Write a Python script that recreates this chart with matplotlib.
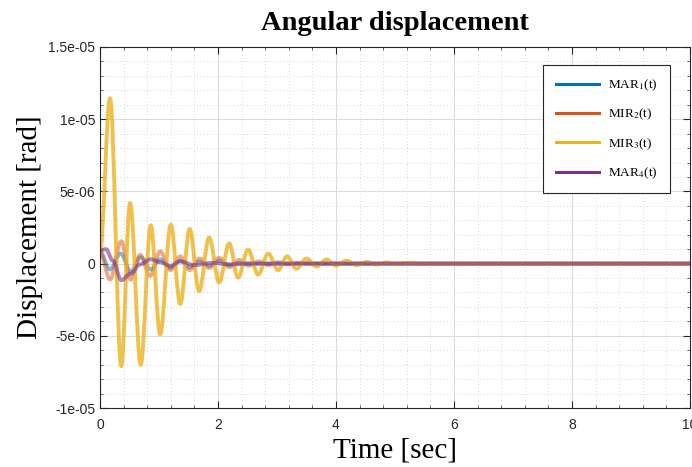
import numpy as np
import matplotlib
matplotlib.use('Agg')
import matplotlib.pyplot as plt
from matplotlib.ticker import MultipleLocator
from matplotlib.path import Path
from matplotlib.patches import PathPatch
from matplotlib.lines import Line2D

# extrema (time in sec, displacement in 1e-6 rad)
t_mar1 = [0, 0.17, 0.35, 0.52, 0.69, 0.86, 1.02, 1.19, 1.36, 1.52, 1.69, 1.86, 2.02, 2.19, 2.36, 2.6, 10]
v_mar1 = [0.8, -0.4, 0.7, -0.55, 0.45, -0.4, 0.3, -0.3, 0.2, -0.25, 0.15, -0.15, 0.2, -0.1, 0.05, 0, 0]

t_mir2 = [0, 0.17, 0.36, 0.52, 0.68, 0.85, 1.02, 1.19, 1.36, 1.52, 1.69, 1.85, 2.02, 2.19, 2.36, 2.52,
          2.69, 2.86, 3.02, 3.19, 3.36, 3.6, 10]
v_mir2 = [0.8, -1.1, 1.55, -1.1, 0.6, -0.85, 0.85, -0.45, 0.5, -0.45, 0.35, -0.3, 0.4, -0.25, 0.25, -0.15,
          0.15, -0.1, 0.1, -0.05, 0.05, 0, 0]

t_mir3 = [0, 0.17, 0.36, 0.51, 0.69, 0.86, 1.02, 1.2, 1.36, 1.52, 1.68, 1.85, 2.02, 2.19, 2.34, 2.51,
          2.68, 2.85, 3.02, 3.17, 3.33, 3.5, 3.67, 3.84, 4.0, 4.18, 4.35, 4.52, 4.69, 4.86, 5.03, 5.2, 5.4, 10]
v_mir3 = [0.8, 11.45, -7.1, 4.2, -7.0, 2.65, -4.9, 2.7, -2.8, 2.4, -1.9, 1.8, -1.3, 1.4, -0.97, 0.97,
          -0.76, 0.69, -0.46, 0.5, -0.35, 0.35, -0.2, 0.28, -0.14, 0.2, -0.1, 0.12, -0.07, 0.08, -0.04, 0.05, 0, 0]

t_mar4 = [0, 0.1, 0.22, 0.36, 0.52, 0.68, 0.86, 1.02, 1.19, 1.36, 1.6, 1.9, 2.2, 2.6, 10]
v_mar4 = [0.9, 1.0, 0.2, -1.15, -0.7, -0.05, 0.3, 0.1, -0.15, 0.15, -0.1, 0.05, -0.05, 0, 0]

labels = ['MAR$_1$(t)', 'MIR$_2$(t)', 'MIR$_3$(t)', 'MAR$_4$(t)']
colors = ['#0072BD', '#D95319', '#EDB120', '#7E2F8E']

plt.rcParams['mathtext.fontset'] = 'stix'


def smooth_path(t, v):
    # bezier segments between the read extrema, flat tangent at each one
    verts = [(t[0], v[0])]
    codes = [Path.MOVETO]
    for i in range(len(t) - 1):
        d = (t[i + 1] - t[i]) * 0.36
        verts += [(t[i] + d, v[i]), (t[i + 1] - d, v[i + 1]), (t[i + 1], v[i + 1])]
        codes += [Path.CURVE4] * 3
    return Path(verts, codes)


fig = plt.figure(figsize=(6.92, 4.67), dpi=100)
ax = fig.add_axes([0.1445, 0.1263, 0.8525, 0.7731])

series = [(t_mar1, v_mar1), (t_mir2, v_mir2), (t_mir3, v_mir3), (t_mar4, v_mar4)]
alphas = [0.5, 0.5, 0.8, 0.6]
for (t, v), c, a in zip(series, colors, alphas):
    p = smooth_path(t, np.array(v) * 1e-6)
    ax.add_patch(PathPatch(p, fill=False, edgecolor=c, lw=2.8, alpha=a,
                           capstyle='round', joinstyle='round', zorder=2))

ax.set_xlim(0, 10)
ax.set_ylim(-1e-5, 1.5e-5)
ax.set_xticks([0, 2, 4, 6, 8, 10])
ax.set_xticklabels(['0', '2', '4', '6', '8', '10'])
ax.set_yticks([-1e-5, -5e-6, 0, 5e-6, 1e-5, 1.5e-5])
ax.set_yticklabels(['-1e-05', '-5e-06', '0', '5e-06', '1e-05', '1.5e-05'])
ax.xaxis.set_minor_locator(MultipleLocator(0.4))
ax.yaxis.set_minor_locator(MultipleLocator(1e-6))
ax.tick_params(which='both', direction='in', colors='#262626', labelsize=10, top=True, right=True)
ax.tick_params(which='major', length=5, width=0.8)
ax.tick_params(which='minor', length=2.5, width=0.5)
for lab in ax.get_xticklabels() + ax.get_yticklabels():
    lab.set_family('Liberation Sans')
ax.tick_params(axis='x', pad=7)
for s in ax.spines.values():
    s.set_color('#262626')
    s.set_linewidth(0.8)

ax.grid(which='major', color='#dadada', lw=0.7, ls='-')
ax.grid(which='minor', color='#c8c8c8', lw=0.6, ls=(0, (1, 3)))
ax.set_axisbelow(True)

ax.set_title('Angular displacement', family='Liberation Serif', fontweight='bold', fontsize=20.5, pad=12)
ax.set_xlabel('Time [sec]', family='Liberation Serif', fontsize=21, labelpad=4)
ax.set_ylabel('Displacement [rad]', family='Liberation Serif', fontsize=21, labelpad=4)

handles = [Line2D([], [], color=c, lw=2.2) for c in colors]
leg = ax.legend(handles, labels, loc='upper right', bbox_to_anchor=(0.966, 0.95),
                prop={'family': 'Liberation Serif', 'size': 9.5},
                fancybox=False, edgecolor='#262626', framealpha=1, labelspacing=1.05,
                handlelength=3.3, borderpad=0.95, handletextpad=0.65, borderaxespad=0)
leg.get_frame().set_linewidth(0.8)

fig.savefig('out.png', dpi=100)
